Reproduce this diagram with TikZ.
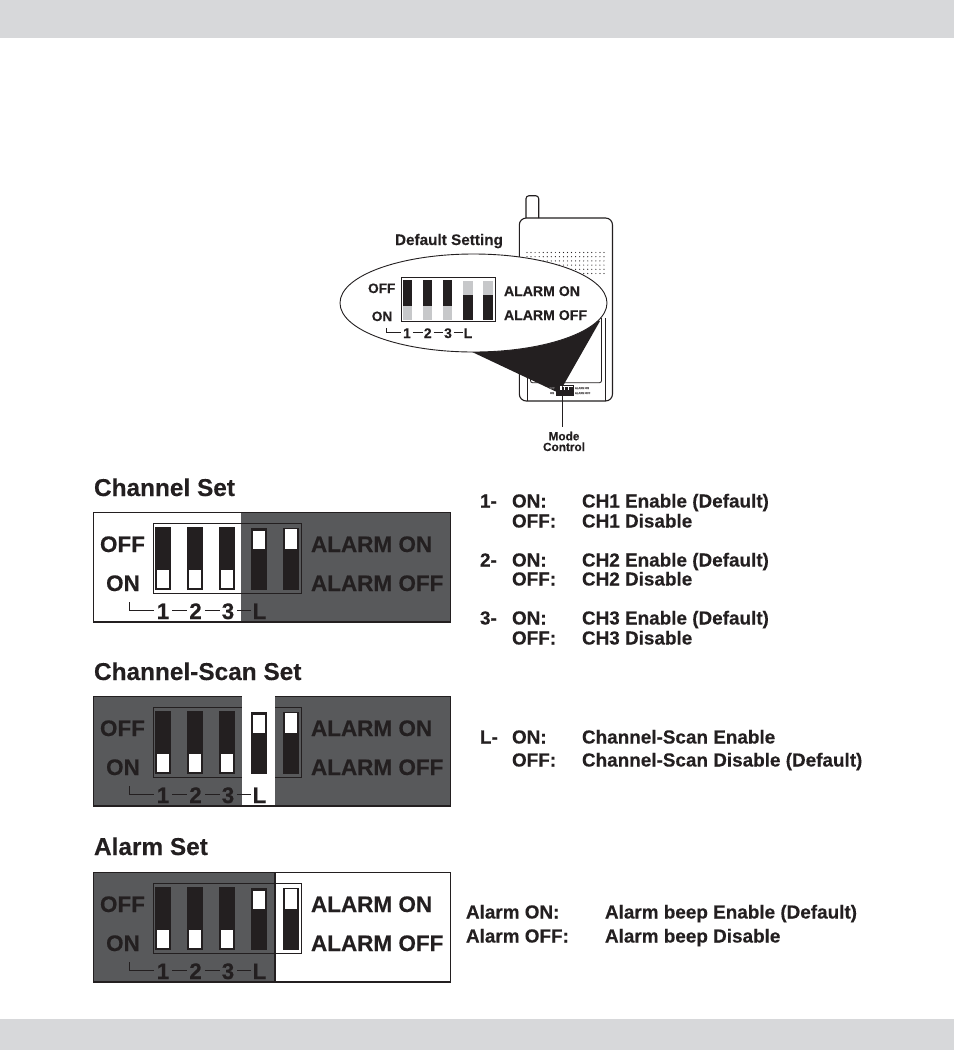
\documentclass[tikz,border=0pt]{standalone}
\usepackage{fontspec}
\setmainfont{Liberation Sans}[BoldFeatures={FakeBold=0.25}]
\definecolor{ink}{HTML}{231F20}
\definecolor{panelgray}{HTML}{58595B}
\definecolor{bandgray}{HTML}{D7D8DA}
\definecolor{knobgray}{HTML}{C7C8CA}
\tikzset{
  txt/.style={anchor=base west,inner sep=0pt,outer sep=0pt,text=ink,font=\bfseries\fontsize{#1}{#1}\selectfont},
  ctxt/.style={anchor=base,inner sep=0pt,outer sep=0pt,text=ink,font=\bfseries\fontsize{#1}{#1}\selectfont},
  thinline/.style={draw=ink,line width=0.8pt},
  slotbar/.style={fill=ink,draw=none},
  knob/.style={fill=white,draw=ink,line width=1.7pt},
  smallknob/.style={fill=knobgray,draw=none},
  gapline/.style={thinline,shorten <=3pt,shorten >=2pt}
}
\newcommand{\dipset}[5]{%
\begin{scope}[shift={(0,#2)}]
  \fill[panelgray] (93.5,512.5) rectangle (450.5,622);
  \fill[white] (#3,512.5) rectangle (#4,622);
  \draw[thinline] (153.7,523) rectangle (301.7,593);
  \draw[draw=ink,line width=1.6pt] (93.5,512.5) rectangle (450.5,622);
  #5
  \foreach \xa in {155,187,219}{
    \fill[slotbar] (\xa,527) rectangle (\xa+16,590);
    \draw[knob] (\xa+0.8,569.5) rectangle (\xa+15.2,589.2);
  }
  \fill[slotbar] (251,527.5) rectangle (267,589.5);
  \draw[knob] (251.8,530) rectangle (266.2,550);
  \fill[slotbar] (283,527.5) rectangle (299,589.5);
  \draw[knob] (283.8,528.5) rectangle (298.2,549.5);
  \node[ctxt=22.5] (#1off) at (122.5,552) {OFF};
  \node[ctxt=22.5] (#1on) at (123,591) {ON};
  \node[txt=22.5] (#1aon) at (311,552) {ALARM ON};
  \node[txt=22.5] (#1aoff) at (311,591) {ALARM OFF};
  \node[ctxt=22.5] (#1a) at (163,619) {1};
  \node[ctxt=22.5] (#1b) at (195.5,619) {2};
  \node[ctxt=22.5] (#1c) at (228,619) {3};
  \node[ctxt=22.5] (#1l) at (259.5,619) {L};
  \draw[thinline,shorten >=3pt] (129,602) -- (129,610.5) -- (#1a.west |- 0,610.5);
  \draw[gapline] (#1a.east |- 0,610.5) -- (#1b.west |- 0,610.5);
  \draw[gapline] (#1b.east |- 0,610.5) -- (#1c.west |- 0,610.5);
  \draw[gapline] (#1c.east |- 0,610.5) -- (#1l.west |- 0,610.5);
\end{scope}}
\begin{document}
\begin{tikzpicture}[x=1pt,y=-1pt]
\useasboundingbox (0,0) rectangle (954,1050);
\fill[white] (0,0) rectangle (954,1050);
\fill[bandgray] (0,0) rectangle (954,38);
\fill[bandgray] (0,1019) rectangle (954,1050);
% device
\draw[draw=ink,line width=1.1pt,rounded corners=3pt,fill=white] (526,218) -- (526,195.7) -- (538.7,195.7) -- (538.7,218);
\draw[draw=ink,line width=1.1pt,rounded corners=7pt] (519.3,218) rectangle (612.5,401);
\foreach \i in {0,...,19}{\foreach \j in {0,...,5}{
  \fill[ink] (527+\i*4.05,252.5+\j*4.2) circle (0.6);
}}
\draw[draw=ink,line width=0.8pt] (527,401) -- (527,345);
\draw[draw=ink,line width=0.8pt] (605,401) -- (605,318);
\draw[draw=ink,line width=0.8pt,rounded corners=2pt] (530.5,330) -- (530.5,382.7) -- (601.5,382.7) -- (601.5,318);
% beam
\fill[ink] (470,351) -- (559,393) -- (600,321) -- (540,300) -- cycle;
% enlarged bubble
\draw[draw=ink,line width=0.9pt,fill=white] (473.5,303) ellipse [x radius=133.5,y radius=49];
% tiny switch on the device
\fill[ink] (556.5,387) rectangle (573,395);
\draw[draw=ink,line width=0.8pt] (556.5,385.5) rectangle (573,395.5);
\foreach \xa in {560.3,563.5,567.5}{\fill[white] (\xa,386.2) rectangle (\xa+1.5,390);}
\node[ctxt=2.6,text=ink!70] (devoff) at (552,389) {OFF};
\node[ctxt=2.6,text=ink!70] (devon) at (552,394) {ON};
\node[txt=2.6,text=ink!70] (devaon) at (575,389) {ALARM ON};
\node[txt=2.6,text=ink!70] (devaoff) at (575,394) {ALARM OFF};
% mode control
\node[ctxt=11.8] (modeA) at (564,440.3) {Mode};
\node[ctxt=11.8] (modeB) at (564,451) {Control};
\draw[draw=ink,line width=1pt] (562.3,395.5) -- (562.3,427);
% default setting
\node[txt=15.3] (defset) at (395,245) {Default Setting};
\draw[draw=ink,line width=1pt] (401.7,277.3) rectangle (495,321.7);
\foreach \xa in {402.7,422.5,442.5}{
  \fill[slotbar] (\xa,280) rectangle (\xa+9.3,320);
  \fill[smallknob] (\xa,306) rectangle (\xa+9.3,320);
}
\foreach \xa in {463,483}{
  \fill[slotbar] (\xa,281) rectangle (\xa+9.7,320);
  \fill[smallknob] (\xa,281) rectangle (\xa+9.7,295);
}
\node[ctxt=13.6] (soff) at (381.7,293) {OFF};
\node[ctxt=13.6] (son) at (382,321) {ON};
\node[txt=14.1] (saon) at (504,296) {ALARM ON};
\node[txt=14.1] (saoff) at (504,320) {ALARM OFF};
\node[ctxt=13.9] (sa) at (407,338) {1};
\node[ctxt=13.9] (sb) at (427.7,338) {2};
\node[ctxt=13.9] (sc) at (448,338) {3};
\node[ctxt=13.9] (sl) at (468,338) {L};
\draw[thinline,shorten >=2pt] (386,328.3) -- (386,332.5) -- (sa.west |- 0,332.5);
\draw[thinline,shorten <=2pt,shorten >=1pt] (sa.east |- 0,332.5) -- (sb.west |- 0,332.5);
\draw[thinline,shorten <=2pt,shorten >=1pt] (sb.east |- 0,332.5) -- (sc.west |- 0,332.5);
\draw[thinline,shorten <=2pt,shorten >=1pt] (sc.east |- 0,332.5) -- (sl.west |- 0,332.5);
% titles
\node[txt=24.4] (t1) at (94,496) {Channel Set};
\node[txt=24.4] (t2) at (94,680) {Channel-Scan Set};
\node[txt=24.4] (t3) at (94,855) {Alarm Set};
% panels
\dipset{p}{0}{93.5}{241}{}
\dipset{q}{184}{241.7}{275}{\fill[white] (241.7,511) rectangle (275,621);}
\dipset{r}{360}{275}{450.5}{\draw[draw=ink,line width=2pt] (275,512.5) -- (275,622);}
% descriptions
\node[txt=18.9] (n1) at (480,507.5) {1-};
\node[txt=18.9] (n1a) at (512,507.5) {ON:};
\node[txt=18.9] (n1b) at (582,507.5) {CH1 Enable (Default)};
\node[txt=18.9] (n1c) at (512,527.5) {OFF:};
\node[txt=18.9] (n1d) at (582,527.5) {CH1 Disable};
\node[txt=18.9] (n2) at (480,566.5) {2-};
\node[txt=18.9] (n2a) at (512,566.5) {ON:};
\node[txt=18.9] (n2b) at (582,566.5) {CH2 Enable (Default)};
\node[txt=18.9] (n2c) at (512,585.5) {OFF:};
\node[txt=18.9] (n2d) at (582,585.5) {CH2 Disable};
\node[txt=18.9] (n3) at (480,624.5) {3-};
\node[txt=18.9] (n3a) at (512,624.5) {ON:};
\node[txt=18.9] (n3b) at (582,624.5) {CH3 Enable (Default)};
\node[txt=18.9] (n3c) at (512,644.5) {OFF:};
\node[txt=18.9] (n3d) at (582,644.5) {CH3 Disable};
\node[txt=18.9] (nl) at (480,743.5) {L-};
\node[txt=18.9] (nla) at (512,743.5) {ON:};
\node[txt=18.9] (nlb) at (582,743.5) {Channel-Scan Enable};
\node[txt=18.9] (nlc) at (512,766.5) {OFF:};
\node[txt=18.9] (nld) at (582,766.5) {Channel-Scan Disable (Default)};
\node[txt=18.9] (aa) at (466,918.5) {Alarm ON:};
\node[txt=18.9] (ab) at (605,918.5) {Alarm beep Enable (Default)};
\node[txt=18.9] (ac) at (466,942.5) {Alarm OFF:};
\node[txt=18.9] (ad) at (605,942.5) {Alarm beep Disable};
\end{tikzpicture}
\end{document}
